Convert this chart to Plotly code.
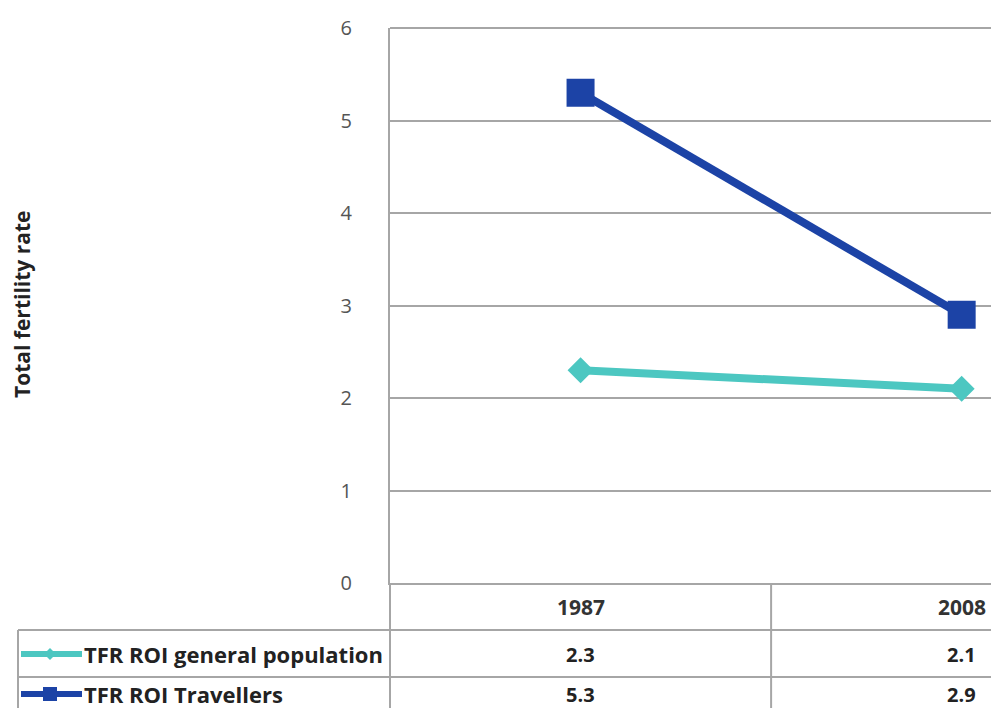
import plotly.graph_objects as go

years = ["1987", "2008"]
general_pop = [2.3, 2.1]
travellers = [5.3, 2.9]
series_names = ["TFR ROI general population", "TFR ROI Travellers"]
y_ticks = [0, 1, 2, 3, 4, 5, 6]

TEAL = "#4cc7c1"
BLUE = "#1c43a6"
GRID = "#a6a6a6"
FONT = "Open Sans"

W, H = 991, 708
L, R, T, B = 390, 0, 28, 125
PW, PH = W - L - R, H - T - B


def px(x):
    return (x - L) / PW


def py(y):
    return (H - B - y) / PH


fig = go.Figure()
fig.add_trace(go.Scatter(
    x=years, y=general_pop, mode="lines+markers", name=series_names[0],
    line=dict(color=TEAL, width=8),
    marker=dict(symbol="diamond", size=20, color=TEAL),
    showlegend=False, cliponaxis=False))
fig.add_trace(go.Scatter(
    x=years, y=travellers, mode="lines+markers", name=series_names[1],
    line=dict(color=BLUE, width=8),
    marker=dict(symbol="square", size=28, color=BLUE),
    showlegend=False, cliponaxis=False))

shapes = []
ann = []
# table horizontal lines
for yy in (630, 677):
    shapes.append(dict(type="line", xref="paper", yref="paper",
                       x0=px(18), x1=1, y0=py(yy), y1=py(yy),
                       line=dict(color=GRID, width=2)))
# left border of table row labels
shapes.append(dict(type="line", xref="paper", yref="paper",
                   x0=px(18), x1=px(18), y0=py(630), y1=py(720),
                   line=dict(color=GRID, width=2)))
# axis line extension down through table
shapes.append(dict(type="line", xref="paper", yref="paper",
                   x0=0, x1=0, y0=py(583), y1=py(720),
                   line=dict(color=GRID, width=2)))
# column divider between categories
shapes.append(dict(type="line", xref="x", yref="paper",
                   x0=0.5, x1=0.5, y0=py(583), y1=py(720),
                   line=dict(color=GRID, width=2)))

# header row (category index positions on the category axis)
for i, yr in enumerate(years):
    ann.append(dict(x=i, y=py(607), xref="x", yref="paper", text=f"<b>{yr}</b>",
                    showarrow=False, font=dict(family=FONT, size=21, color="#333"),
                    yanchor="middle"))
rows = [(general_pop, 654), (travellers, 694)]
for vals, yy in rows:
    for i, v in enumerate(vals):
        ann.append(dict(x=i, y=py(yy), xref="x", yref="paper", text=f"<b>{v}</b>",
                        showarrow=False, font=dict(family=FONT, size=20, color="#222"),
                        yanchor="middle"))

# legend keys inside table
keys = [(series_names[0], 654, TEAL, "diamond"), (series_names[1], 694, BLUE, "square")]
for name, yy, col, sym in keys:
    shapes.append(dict(type="line", xref="paper", yref="paper",
                       x0=px(21), x1=px(82), y0=py(yy), y1=py(yy),
                       line=dict(color=col, width=6)))
    cx, cy = 50, yy
    if sym == "diamond":
        path = (f"M {px(cx-6)} {py(cy)} L {px(cx)} {py(cy-6)} "
                f"L {px(cx+6)} {py(cy)} L {px(cx)} {py(cy+6)} Z")
    else:
        path = (f"M {px(cx-7)} {py(cy-7)} L {px(cx+7)} {py(cy-7)} "
                f"L {px(cx+7)} {py(cy+7)} L {px(cx-7)} {py(cy+7)} Z")
    shapes.append(dict(type="path", xref="paper", yref="paper", path=path,
                       fillcolor=col, line=dict(color=col, width=0)))
    ann.append(dict(x=px(82), y=py(yy), xref="paper", yref="paper",
                    text=f"<b>{name}</b>", showarrow=False, xanchor="left",
                    yanchor="middle",
                    font=dict(family=FONT, size=22, color="#222")))

# y-axis title
ann.append(dict(x=px(22), y=py(304), xref="paper", yref="paper",
                text="<b>Total fertility rate</b>", textangle=-90, showarrow=False,
                xanchor="center", yanchor="middle",
                font=dict(family=FONT, size=21, color="#222")))

fig.update_layout(
    width=W, height=H,
    margin=dict(l=L, r=R, t=T, b=B),
    paper_bgcolor="white", plot_bgcolor="white",
    shapes=shapes, annotations=ann,
    xaxis=dict(type="category", range=[-0.5, 1.077], showgrid=False,
               showticklabels=False, ticks="", zeroline=False,
               showline=True, linecolor=GRID, linewidth=2, mirror=False),
    yaxis=dict(range=[0, 6], tickvals=y_ticks, showgrid=True, gridcolor=GRID,
               gridwidth=2, zeroline=False, showline=True, linecolor=GRID,
               linewidth=2, ticks="", ticklabelstandoff=32,
               tickfont=dict(family=FONT, size=20, color="#555")),
)
fig.add_shape(type="line", xref="paper", yref="paper", x0=0, x1=1, y0=1, y1=1,
              line=dict(color=GRID, width=2))

fig.write_html("out.html", config={"displayModeBar": False},
               post_script="document.body.style.margin='0';")
